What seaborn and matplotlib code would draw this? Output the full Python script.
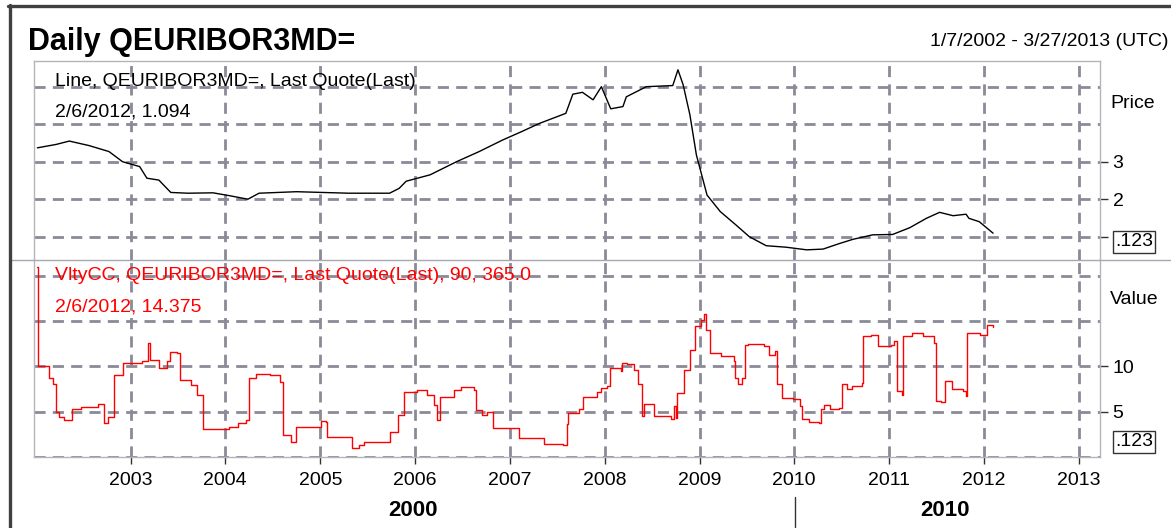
import matplotlib
matplotlib.use('Agg')
import matplotlib.pyplot as plt
from matplotlib.lines import Line2D
import pandas as pd
import seaborn as sns

# ---------------- data ----------------
price_dates = [
    '2002-01-07', '2002-03-20', '2002-05-10', '2002-07-25', '2002-10-10', '2002-12-01',
    '2003-02-05', '2003-03-05', '2003-04-20', '2003-06-05', '2003-08-10', '2003-11-15',
    '2004-01-20', '2004-03-28', '2004-05-10', '2004-10-01', '2005-04-20', '2005-09-25',
    '2005-11-01', '2005-11-28', '2006-02-28', '2006-06-10', '2006-09-05', '2006-12-05',
    '2007-02-15', '2007-04-25', '2007-08-05', '2007-09-01', '2007-10-08', '2007-11-18',
    '2007-12-20', '2008-01-25', '2008-03-12', '2008-03-25', '2008-06-10', '2008-09-20',
    '2008-10-10', '2008-10-30', '2008-11-25', '2008-12-20', '2009-01-30', '2009-03-22',
    '2009-05-22', '2009-07-12', '2009-09-15', '2009-12-01', '2010-02-18', '2010-04-22',
    '2010-06-25', '2010-08-15', '2010-10-30', '2011-01-15', '2011-03-22', '2011-05-25',
    '2011-07-15', '2011-09-05', '2011-10-25', '2011-11-05', '2011-12-15', '2012-02-06']
price_values = [
    3.37, 3.46, 3.55, 3.43, 3.27, 3.00,
    2.87, 2.56, 2.51, 2.18, 2.16, 2.17,
    2.09, 2.00, 2.16, 2.20, 2.16, 2.16,
    2.29, 2.48, 2.65, 3.00, 3.27, 3.58,
    3.80, 4.02, 4.29, 4.80, 4.85, 4.65,
    5.00, 4.41, 4.47, 4.73, 5.00, 5.03,
    5.45, 5.05, 4.25, 3.18, 2.11, 1.67,
    1.31, 1.00, 0.76, 0.72, 0.65, 0.67,
    0.82, 0.93, 1.05, 1.06, 1.24, 1.49,
    1.65, 1.56, 1.60, 1.49, 1.40, 1.094]

vol_dates = [
    '2002-01-07', '2002-01-08', '2002-02-05', '2002-02-20', '2002-03-10', '2002-03-18',
    '2002-04-01', '2002-04-20', '2002-05-20', '2002-06-25', '2002-08-28', '2002-09-20',
    '2002-10-08', '2002-10-30', '2002-12-01', '2003-02-15', '2003-03-10', '2003-03-18',
    '2003-04-20', '2003-05-22', '2003-06-03', '2003-06-28', '2003-07-12', '2003-08-22',
    '2003-09-15', '2003-10-08', '2003-12-15', '2004-01-15', '2004-02-20', '2004-03-20',
    '2004-04-01', '2004-04-28', '2004-06-20', '2004-07-30', '2004-08-10', '2004-09-10',
    '2004-09-28', '2004-10-01', '2004-12-28', '2005-01-05', '2005-01-22', '2005-01-26',
    '2005-05-02', '2005-05-05', '2005-05-30', '2005-06-18', '2005-09-24', '2005-09-27',
    '2005-10-27', '2005-11-18', '2006-01-08', '2006-02-17', '2006-03-14', '2006-03-28',
    '2006-04-08', '2006-06-02', '2006-06-28', '2006-08-15', '2006-08-22', '2006-09-16',
    '2006-10-05', '2006-10-27', '2007-02-05', '2007-05-12', '2007-07-25', '2007-08-08',
    '2007-08-15', '2007-09-25', '2007-10-12', '2007-12-02', '2007-12-18', '2008-01-10',
    '2008-01-22', '2008-03-03', '2008-03-10', '2008-03-28', '2008-04-22', '2008-05-10',
    '2008-05-25', '2008-06-02', '2008-07-08', '2008-07-10', '2008-09-12', '2008-09-26',
    '2008-10-01', '2008-10-08', '2008-11-03', '2008-11-25', '2008-12-15', '2009-01-08',
    '2009-01-20', '2009-01-26', '2009-02-10', '2009-03-25', '2009-05-12', '2009-05-18',
    '2009-05-30', '2009-06-12', '2009-06-25', '2009-07-08', '2009-09-08', '2009-09-24',
    '2009-10-20', '2009-10-27', '2009-11-15', '2009-12-28', '2010-01-22', '2010-01-30',
    '2010-02-25', '2010-04-05', '2010-04-16', '2010-04-27', '2010-05-18', '2010-06-22',
    '2010-07-05', '2010-07-22', '2010-08-12', '2010-09-20', '2010-09-24', '2010-10-22',
    '2010-11-18', '2011-01-08', '2011-01-20', '2011-01-30', '2011-02-20', '2011-02-24',
    '2011-04-01', '2011-05-12', '2011-06-25', '2011-07-01', '2011-07-20', '2011-08-05',
    '2011-09-02', '2011-10-12', '2011-10-26', '2011-10-30', '2011-12-18', '2012-01-12',
    '2012-01-22', '2012-02-06']
vol_values = [
    21.0, 10.0, 10.0, 8.7, 8.1, 5.0,
    4.45, 4.1, 5.3, 5.55, 5.85, 3.7,
    4.45, 9.06, 10.35, 10.6, 12.56, 10.7,
    9.8, 10.6, 11.6, 11.5, 8.5, 7.95,
    6.85, 3.1, 3.1, 3.35, 3.7, 4.1,
    8.7, 9.1, 9.06, 8.3, 2.4, 1.7,
    1.6, 3.35, 3.35, 4.0, 3.9, 2.25,
    2.25, 1.0, 1.3, 1.6, 1.6, 2.8,
    4.6, 7.2, 7.4, 6.85, 5.75, 4.1,
    6.65, 7.4, 7.75, 7.4, 5.2, 4.6,
    5.0, 3.15, 2.05, 1.4, 1.3, 3.6,
    4.9, 5.3, 6.65, 7.15, 7.6, 7.8,
    9.8, 9.45, 10.35, 10.3, 9.6, 8.0,
    4.5, 5.8, 5.7, 4.5, 4.2, 5.6,
    4.35, 7.1, 9.6, 11.8, 14.4, 15.1,
    15.8, 14.0, 11.5, 11.1, 10.55, 8.7,
    8.0, 8.7, 12.4, 12.5, 12.2, 11.3,
    11.65, 8.0, 6.5, 6.35, 5.6, 4.15,
    3.85, 3.8, 5.25, 5.7, 5.25, 5.45,
    8.0, 7.45, 7.8, 8.2, 13.3, 13.5,
    12.25, 12.4, 12.75, 7.25, 6.8, 13.3,
    13.65, 13.3, 12.55, 6.15, 6.05, 8.35,
    7.5, 7.25, 6.7, 13.65, 13.5, 14.55,
    14.55, 14.375]

year_ticks = list(range(2003, 2014))
price_grid = [1, 2, 3, 4, 5]
price_tick_labels = ['', '2', '3', '', '']
vol_grid = [0, 5, 10, 15, 20]
vol_tick_labels = ['', '5', '10', '', '']
decades = ['2000', '2010']

title_text = 'Daily QEURIBOR3MD='
range_text = '1/7/2002 - 3/27/2013 (UTC)'
price_legend = ['Line, QEURIBOR3MD=, Last Quote(Last)', '2/6/2012, 1.094']
vol_legend = ['VltyCC, QEURIBOR3MD=, Last Quote(Last), 90, 365.0', '2/6/2012, 14.375']

# ---------------- style ----------------
sns.set_theme(style='white')
plt.rcParams['font.family'] = ['Liberation Sans', 'DejaVu Sans']

W, H = 1171, 528
fig = plt.figure(figsize=(W / 100, H / 100), dpi=100)
fig.patch.set_facecolor('white')


def fx(px):
    return px / W


def fy(py):
    return 1 - py / H


GRID = '#8a8a98'
FRAME = '#b4b4bc'

ax1 = fig.add_axes([fx(34), fy(260), fx(1100) - fx(34), fy(61) - fy(260)])
ax2 = fig.add_axes([fx(34), fy(457), fx(1100) - fx(34), fy(260) - fy(457)])

pdf = pd.DataFrame({'date': pd.to_datetime(price_dates), 'price': price_values})
vdf = pd.DataFrame({'date': pd.to_datetime(vol_dates), 'value': vol_values})

sns.lineplot(data=pdf, x='date', y='price', ax=ax1, color='black', linewidth=1.0,
             estimator=None, sort=False, zorder=3)
sns.lineplot(data=vdf, x='date', y='value', ax=ax2, color='#ff0000', linewidth=1.0,
             estimator=None, sort=False, zorder=3, drawstyle='steps-post')

xmin, xmax = pd.Timestamp('2001-12-25'), pd.Timestamp('2013-03-24')
year_pos = [pd.Timestamp(f'{y}-01-01') for y in year_ticks]

for ax in (ax1, ax2):
    ax.set_xlim(xmin, xmax)
    ax.set_xticks(year_pos)
    ax.set_xlabel('')
    ax.set_ylabel('')
    ax.set_facecolor('white')
    ax.grid(True, color=GRID, linewidth=2.0, linestyle=(0, (4.0, 2.6)), zorder=1)
    ax.yaxis.tick_right()
    for s in ax.spines.values():
        s.set_color(FRAME)
        s.set_linewidth(1.0)

ax1.set_ylim(0.379, 5.685)
ax1.set_yticks(price_grid)
ax1.set_yticklabels(price_tick_labels)
ax1.tick_params(axis='x', which='both', length=0, labelbottom=False)
ax1.tick_params(axis='y', right=True, left=False, length=6, width=1, color='#333333',
                labelsize=14, pad=3, labelcolor='black')
for t in ax1.yaxis.get_major_ticks()[3:]:
    t.tick2line.set_visible(False)
ax1.spines['bottom'].set_visible(False)

ax2.set_ylim(0, 21.72)
ax2.set_yticks(vol_grid)
ax2.set_yticklabels(vol_tick_labels)
ax2.set_xticklabels([str(y) for y in year_ticks])
ax2.tick_params(axis='x', bottom=True, length=5, width=1, color='#333333', labelsize=14,
                pad=6, labelcolor='black')
ax2.tick_params(axis='y', right=True, left=False, length=6, width=1, color='#333333',
                labelsize=14, pad=3, labelcolor='black')
ticks2 = ax2.yaxis.get_major_ticks()
ticks2[0].tick2line.set_visible(False)
for t in ticks2[3:]:
    t.tick2line.set_visible(False)
ax2.spines['top'].set_visible(False)

# separator between the two panes and outer border
fig.add_artist(Line2D([fx(10), 1], [fy(260), fy(260)], color='#a8a8b0', lw=1.0))
fig.add_artist(Line2D([fx(9.5), fx(9.5)], [fy(5), 0], color='#404040', lw=2.4))
fig.add_artist(Line2D([fx(8), 1], [fy(5.5), fy(5.5)], color='#404040', lw=2.4))

# texts
fig.text(fx(28), fy(50), title_text, fontsize=22, fontweight='bold', ha='left',
         va='baseline', color='black')
fig.text(fx(1168), fy(46), range_text, fontsize=14, ha='right', va='baseline', color='black')

fig.text(fx(55), fy(81), price_legend[0], fontsize=14, ha='left', va='center', color='black')
fig.text(fx(55), fy(112), price_legend[1], fontsize=14, ha='left', va='center', color='black')
fig.text(fx(55), fy(276), vol_legend[0], fontsize=14, ha='left', va='center', color='#ff0000')
fig.text(fx(55), fy(307), vol_legend[1], fontsize=14, ha='left', va='center', color='#ff0000')

fig.text(fx(1110), fy(104), 'Price', fontsize=14, ha='left', va='center', color='black')
fig.text(fx(1110), fy(300), 'Value', fontsize=14, ha='left', va='center', color='black')

box = dict(boxstyle='square,pad=0.12', facecolor='white', edgecolor='#333333', linewidth=1.0)
fig.text(fx(1115), fy(242), '.123', fontsize=14, ha='left', va='center', color='black', bbox=box)
fig.text(fx(1115), fy(442), '.123', fontsize=14, ha='left', va='center', color='black', bbox=box)

fig.text(fx(413), fy(510), decades[0], fontsize=16, fontweight='bold', ha='center',
         va='center', color='black')
fig.text(fx(945), fy(510), decades[1], fontsize=16, fontweight='bold', ha='center',
         va='center', color='black')
fig.add_artist(Line2D([fx(795), fx(795)], [fy(497), fy(527)], color='#333333', lw=1.0))

fig.savefig('out.png', dpi=100, facecolor='white')
